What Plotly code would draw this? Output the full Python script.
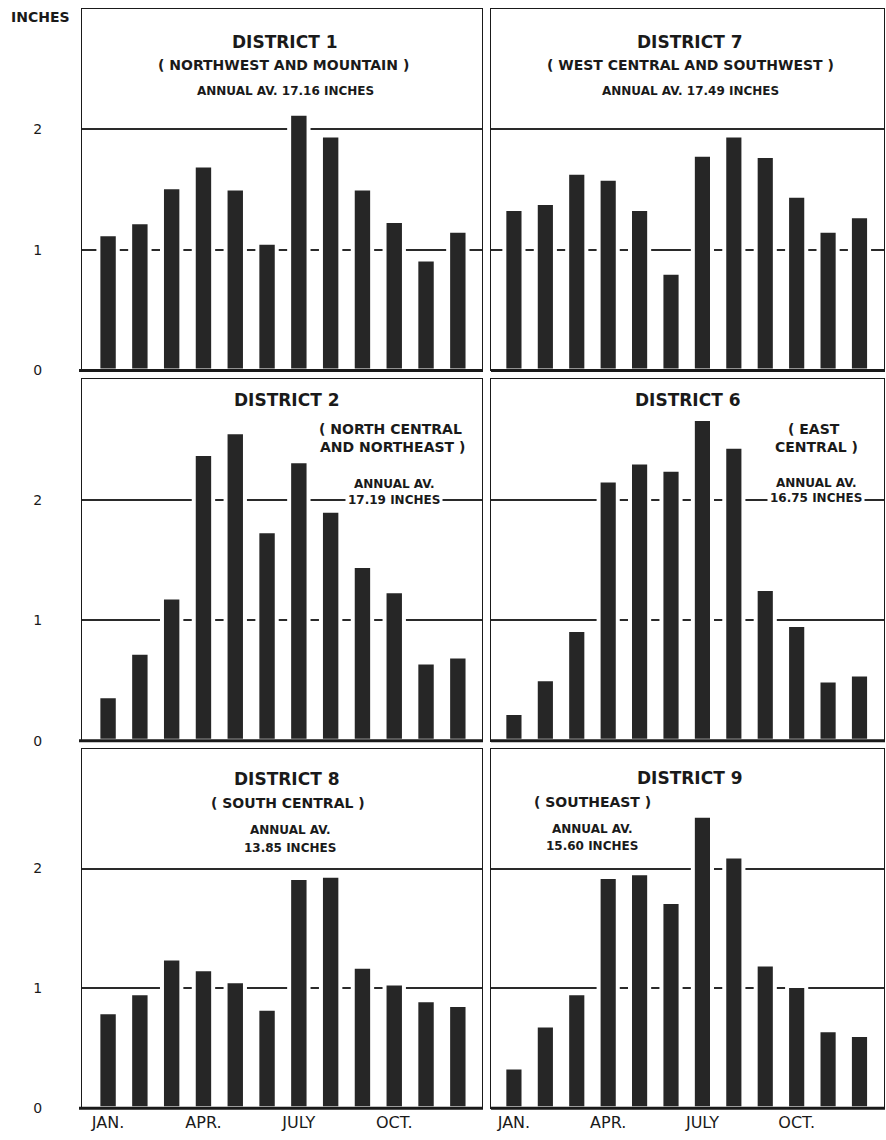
import plotly.graph_objects as go

months = ["JAN.", "FEB.", "MAR.", "APR.", "MAY", "JUNE", "JULY", "AUG.", "SEPT.", "OCT.", "NOV.", "DEC."]
month_ticks = ["JAN.", "APR.", "JULY", "OCT."]
y_ticks = [0, 1, 2]

district1 = [1.13, 1.23, 1.52, 1.70, 1.51, 1.06, 2.13, 1.95, 1.51, 1.24, 0.92, 1.16]
district7 = [1.34, 1.39, 1.64, 1.59, 1.34, 0.81, 1.79, 1.95, 1.78, 1.45, 1.16, 1.28]
district2 = [0.37, 0.73, 1.19, 2.38, 2.56, 1.74, 2.32, 1.91, 1.45, 1.24, 0.65, 0.70]
district6 = [0.23, 0.51, 0.92, 2.16, 2.31, 2.25, 2.67, 2.44, 1.26, 0.96, 0.50, 0.55]
district8 = [0.80, 0.96, 1.25, 1.16, 1.06, 0.83, 1.92, 1.94, 1.18, 1.04, 0.90, 0.86]
district9 = [0.34, 0.69, 0.96, 1.93, 1.96, 1.72, 2.44, 2.10, 1.20, 1.02, 0.65, 0.61]

W, H = 886, 1140
def px(x): return x / W
def py(y): return 1 - y / H

FONT = "DejaVu Sans"
INK = "#1a1a1a"
BAR = "#262626"

# panel pixel boxes: (left, right, top, bottom)
cols = [(82, 482), (491, 884)]
rows = [(9, 373), (382, 746), (754, 1116)]
panels = [
    (district1, 0, 0), (district7, 0, 1),
    (district2, 1, 0), (district6, 1, 1),
    (district8, 2, 0), (district9, 2, 1),
]

fig = go.Figure()
layout = {}
shapes = []
for i, (vals, r, c) in enumerate(panels):
    n = "" if i == 0 else str(i + 1)
    xl, xr = cols[c]
    yt, yb = rows[r]
    fig.add_trace(go.Bar(
        x=months, y=vals, xaxis="x" + n, yaxis="y" + n,
        marker=dict(color=BAR, line=dict(color="white", width=4)),
        width=0.61, showlegend=False, hoverinfo="x+y",
    ))
    rng = [-0.82, 11.76] if c == 0 else [-0.73, 11.78]
    layout["xaxis" + n] = dict(
        domain=[px(xl), px(xr)], anchor="y" + n, range=rng,
        type="category", categoryorder="array", categoryarray=months,
        tickmode="array", tickvals=month_ticks, ticktext=month_ticks,
        showticklabels=(r == 2), ticks="",
        tickfont=dict(family=FONT, size=16, color=INK),
        showgrid=False, zeroline=False,
        showline=True, mirror=True, linecolor=INK, linewidth=1,
    )
    layout["yaxis" + n] = dict(
        domain=[py(yb), py(yt)], anchor="x" + n, range=[0, 3],
        tickmode="array", tickvals=y_ticks, ticktext=[str(v) for v in y_ticks],
        showticklabels=(c == 0), ticks="", ticklabelstandoff=36,
        tickfont=dict(family=FONT, size=14, color=INK),
        showgrid=True, gridcolor="#2a2a2a", gridwidth=1.6, zeroline=False,
        showline=True, mirror=True, linecolor=INK, linewidth=1,
    )
    # thick base line
    x0 = xl - 3 if c == 0 else xl
    shapes.append(dict(type="line", xref="paper", yref="paper",
                       x0=px(x0), x1=px(xr + 1), y0=py(yb), y1=py(yb),
                       line=dict(color=INK, width=3), layer="above"))

def ann(text, x, y, size, bold=True, bg=None):
    t = "<b>" + text + "</b>" if bold else text
    d = dict(text=t, x=px(x), y=py(y), xref="paper", yref="paper",
             showarrow=False, xanchor="center", yanchor="middle",
             font=dict(family=FONT, size=size, color=INK))
    if bg:
        d["bgcolor"] = bg
        d["borderpad"] = 2
    return d

T, S, A = 17, 14, 12
annotations = [
    ann("INCHES", 40, 17, 14),
    # District 1
    ann("DISTRICT 1", 285, 42, T),
    ann("( NORTHWEST AND MOUNTAIN )", 283, 65, S),
    ann("ANNUAL AV. 17.16 INCHES", 285, 92, A),
    # District 7
    ann("DISTRICT 7", 690, 42, T),
    ann("( WEST CENTRAL AND SOUTHWEST )", 690, 65, S),
    ann("ANNUAL AV. 17.49 INCHES", 690, 92, A),
    # District 2
    ann("DISTRICT 2", 287, 403, T),
    ann("( NORTH CENTRAL", 390, 432, S),
    ann("AND NORTHEAST )", 392, 450, S),
    ann("ANNUAL AV.", 394, 487, A),
    ann("17.19 INCHES", 394, 504, A, bg="white"),
    # District 6
    ann("DISTRICT 6", 688, 403, T),
    ann("( EAST", 814, 432, S),
    ann("CENTRAL )", 816, 450, S),
    ann("ANNUAL AV.", 816, 486, A),
    ann("16.75 INCHES", 816, 502, A, bg="white"),
    # District 8
    ann("DISTRICT 8", 287, 785, T),
    ann("( SOUTH CENTRAL )", 288, 809, S),
    ann("ANNUAL AV.", 290, 836, A),
    ann("13.85 INCHES", 290, 854, A),
    # District 9
    ann("DISTRICT 9", 690, 784, T),
    ann("( SOUTHEAST )", 592, 808, S),
    ann("ANNUAL AV.", 592, 835, A),
    ann("15.60 INCHES", 592, 852, A),
]

fig.update_layout(
    width=W, height=H, margin=dict(l=0, r=0, t=0, b=0),
    paper_bgcolor="white", plot_bgcolor="white",
    bargap=0.3, shapes=shapes, annotations=annotations,
    **layout,
)
fig.write_html("out.html", config={"displayModeBar": False},
               post_script="document.body.style.margin='0';")
